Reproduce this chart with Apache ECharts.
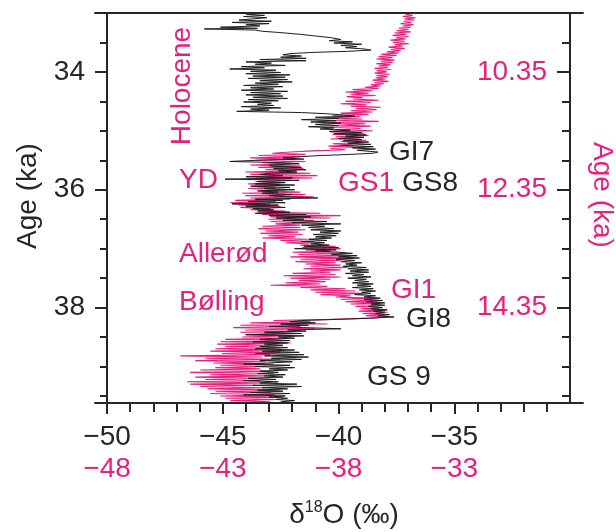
<!DOCTYPE html>
<html><head><meta charset="utf-8">
<script src="https://cdn.jsdelivr.net/npm/echarts@6/dist/echarts.min.js"></script>
<style>html,body{margin:0;padding:0;background:#fff}#c{width:616px;height:532px}</style>
</head><body><div id="c"></div>
<script>
// [age (ka), δ18O (‰)] — black record (left / lower axes)
const blackRecord = [
[33.02,-44.0],[33.04,-43.2],[33.06,-44.1],[33.08,-43.1],[33.10,-43.7],[33.12,-44.3],[33.14,-42.9],[33.16,-44.6],[33.18,-43.0],[33.20,-44.0],
[33.22,-43.4],[33.24,-45.1],[33.26,-43.5],[33.27,-45.8],[33.29,-43.6],[33.31,-43.3],[33.33,-42.6],[33.36,-41.7],[33.39,-41.0],[33.42,-40.3],
[33.45,-39.9],[33.47,-40.4],[33.49,-39.4],[33.51,-40.2],[33.53,-39.0],[33.55,-39.9],[33.57,-39.2],[33.59,-39.7],[33.61,-38.9],[33.63,-38.6],
[33.65,-39.6],[33.67,-41.2],[33.69,-42.1],[33.71,-42.4],[33.73,-41.6],[33.75,-42.5],[33.77,-41.4],[33.79,-43.4],[33.81,-41.4],[33.83,-44.0],
[33.85,-42.9],[33.87,-43.6],[33.89,-42.3],[33.91,-44.2],[33.93,-43.2],[33.95,-44.7],[33.97,-42.7],[33.99,-43.8],[34.01,-42.5],[34.03,-44.0],
[34.05,-42.1],[34.07,-43.7],[34.09,-42.3],[34.11,-43.9],[34.13,-42.2],[34.15,-43.4],[34.17,-42.0],[34.19,-43.6],[34.21,-42.6],[34.23,-44.1],
[34.25,-42.4],[34.27,-43.8],[34.29,-42.8],[34.31,-44.2],[34.33,-42.2],[34.35,-43.8],[34.37,-42.5],[34.39,-44.0],[34.41,-42.4],[34.43,-43.7],
[34.45,-42.2],[34.47,-43.9],[34.49,-42.6],[34.51,-44.1],[34.53,-42.9],[34.55,-43.5],[34.57,-42.8],[34.59,-44.2],[34.61,-42.5],[34.63,-43.8],
[34.65,-43.0],[34.67,-44.4],[34.69,-41.6],[34.71,-40.5],[34.73,-39.8],[34.75,-39.3],[34.77,-41.0],[34.79,-40.0],[34.81,-41.6],[34.83,-40.1],
[34.85,-41.2],[34.87,-39.9],[34.89,-41.0],[34.91,-40.0],[34.93,-41.3],[34.95,-40.2],[34.97,-40.8],[34.99,-39.5],[35.01,-40.4],[35.03,-39.0],
[35.05,-40.2],[35.07,-38.8],[35.09,-39.7],[35.11,-38.9],[35.13,-40.0],[35.15,-39.0],[35.17,-39.8],[35.19,-38.7],[35.21,-39.6],[35.23,-38.6],
[35.25,-39.9],[35.27,-38.5],[35.29,-39.4],[35.31,-38.4],[35.33,-39.2],[35.36,-38.3],[35.38,-38.5],[35.40,-39.5],[35.42,-40.8],[35.44,-41.7],
[35.46,-42.4],[35.48,-41.5],[35.50,-43.5],[35.52,-44.7],[35.54,-42.5],[35.56,-41.7],[35.58,-43.0],[35.60,-42.9],[35.62,-41.6],[35.64,-42.8],
[35.66,-41.4],[35.68,-42.6],[35.70,-41.8],[35.72,-42.9],[35.74,-43.4],[35.76,-42.4],[35.78,-44.0],[35.80,-42.0],[35.82,-44.9],[35.84,-41.7],
[35.86,-43.5],[35.88,-42.3],[35.90,-43.6],[35.92,-41.9],[35.94,-43.8],[35.96,-42.1],[35.98,-43.2],[36.00,-41.9],[36.02,-43.5],[36.04,-42.6],
[36.06,-43.3],[36.08,-42.0],[36.10,-43.0],[36.12,-42.2],[36.14,-40.9],[36.16,-43.6],[36.18,-42.4],[36.20,-43.9],[36.22,-42.3],[36.24,-44.6],
[36.26,-42.6],[36.28,-44.0],[36.30,-42.3],[36.32,-43.7],[36.34,-42.8],[36.36,-43.5],[36.38,-42.1],[36.40,-43.6],[36.42,-41.4],[36.44,-43.0],
[36.46,-41.2],[36.48,-42.7],[36.50,-41.5],[36.52,-42.4],[36.54,-40.5],[36.56,-42.0],[36.58,-39.9],[36.60,-41.6],[36.62,-40.6],[36.64,-41.3],
[36.66,-40.2],[36.68,-41.2],[36.70,-39.9],[36.72,-40.8],[36.74,-40.0],[36.76,-41.1],[36.78,-40.1],[36.80,-41.0],[36.82,-40.3],[36.84,-41.3],
[36.86,-40.5],[36.88,-41.6],[36.90,-40.6],[36.92,-41.2],[36.94,-40.4],[36.96,-41.5],[36.98,-40.0],[37.00,-41.9],[37.02,-40.1],[37.04,-41.0],
[37.06,-40.0],[37.08,-39.4],[37.10,-40.3],[37.12,-39.2],[37.14,-40.0],[37.16,-39.1],[37.18,-40.1],[37.20,-39.3],[37.22,-39.9],[37.24,-39.0],
[37.26,-39.7],[37.28,-39.2],[37.30,-39.8],[37.32,-38.8],[37.34,-39.6],[37.36,-38.7],[37.38,-39.5],[37.40,-38.7],[37.42,-39.7],[37.44,-38.9],
[37.46,-39.4],[37.48,-38.6],[37.50,-39.6],[37.52,-38.8],[37.54,-39.3],[37.56,-38.7],[37.58,-39.4],[37.60,-38.5],[37.62,-39.2],[37.64,-38.6],
[37.66,-39.4],[37.68,-38.5],[37.70,-39.1],[37.72,-38.4],[37.74,-39.0],[37.76,-38.6],[37.78,-39.3],[37.80,-38.4],[37.82,-38.9],[37.84,-38.2],
[37.86,-38.9],[37.88,-38.1],[37.90,-38.8],[37.92,-38.0],[37.94,-38.6],[37.96,-38.0],[37.98,-38.7],[38.00,-38.1],[38.02,-38.6],[38.04,-37.9],
[38.06,-38.5],[38.08,-38.0],[38.10,-38.4],[38.12,-37.8],[38.14,-38.3],[38.16,-37.6],[38.18,-38.6],[38.20,-40.0],[38.22,-41.6],[38.24,-42.1],
[38.26,-41.0],[38.28,-42.5],[38.30,-41.3],[38.32,-43.0],[38.34,-41.5],[38.36,-39.9],[38.38,-42.2],[38.40,-41.4],[38.42,-43.2],[38.44,-41.6],
[38.46,-44.0],[38.48,-41.5],[38.50,-42.6],[38.52,-41.9],[38.54,-43.4],[38.56,-42.1],[38.58,-43.7],[38.60,-42.2],[38.62,-43.2],[38.64,-42.4],
[38.66,-43.4],[38.68,-42.2],[38.70,-43.6],[38.72,-41.9],[38.74,-43.3],[38.76,-41.7],[38.78,-43.6],[38.80,-41.5],[38.82,-43.2],[38.84,-41.3],
[38.86,-42.9],[38.88,-41.6],[38.90,-43.4],[38.92,-42.0],[38.94,-43.0],[38.96,-44.1],[38.98,-42.1],[39.00,-43.6],[39.02,-41.9],[39.04,-43.0],
[39.06,-42.2],[39.08,-43.4],[39.10,-42.6],[39.12,-43.5],[39.14,-42.3],[39.16,-43.2],[39.18,-42.4],[39.20,-43.9],[39.22,-42.7],[39.24,-44.1],
[39.26,-42.6],[39.28,-43.4],[39.30,-41.8],[39.32,-43.7],[39.34,-41.6],[39.36,-43.3],[39.38,-42.2],[39.40,-43.5],[39.42,-42.4],[39.44,-43.8],
[39.46,-42.1],[39.48,-44.1],[39.50,-42.3],[39.52,-43.0],[39.54,-42.2],[39.56,-42.7],[39.58,-41.9],[39.60,-42.5]
];

// [age (ka), δ18O (‰)] — pink record (right / pink axes)
const pinkRecord = [
[9.37,-35.10],[9.39,-34.80],[9.41,-35.23],[9.43,-34.67],[9.45,-35.14],[9.47,-34.71],[9.49,-35.19],[9.51,-34.84],[9.53,-35.32],[9.55,-34.75],
[9.57,-35.23],[9.59,-34.88],[9.61,-35.40],[9.63,-34.97],[9.65,-35.49],[9.67,-34.88],[9.69,-35.58],[9.71,-35.06],[9.73,-35.66],[9.75,-34.97],
[9.77,-35.53],[9.79,-35.10],[9.81,-35.75],[9.83,-35.14],[9.85,-35.66],[9.87,-34.97],[9.89,-35.58],[9.91,-35.23],[9.93,-35.84],[9.95,-35.14],
[9.97,-35.75],[9.99,-35.32],[10.01,-35.92],[10.03,-35.40],[10.05,-36.18],[10.07,-35.49],[10.09,-36.27],[10.11,-35.66],[10.13,-36.36],[10.15,-35.58],
[10.17,-36.18],[10.19,-35.66],[10.21,-36.36],[10.23,-35.75],[10.25,-36.27],[10.27,-35.84],[10.29,-36.44],[10.31,-35.75],[10.33,-36.36],[10.35,-35.92],
[10.37,-36.44],[10.39,-35.79],[10.41,-36.36],[10.43,-35.88],[10.45,-36.40],[10.47,-35.97],[10.49,-36.53],[10.51,-35.84],[10.53,-36.44],[10.55,-36.05],
[10.57,-36.61],[10.59,-36.18],[10.61,-36.87],[10.63,-36.27],[10.65,-37.39],[10.67,-36.53],[10.69,-37.70],[10.71,-36.70],[10.73,-37.48],[10.75,-36.40],
[10.77,-37.65],[10.79,-36.96],[10.81,-37.39],[10.83,-36.27],[10.85,-37.70],[10.87,-36.61],[10.89,-37.91],[10.91,-36.79],[10.93,-37.48],[10.95,-36.18],
[10.97,-37.26],[10.99,-36.36],[11.01,-37.48],[11.03,-36.53],[11.05,-37.91],[11.07,-36.70],[11.09,-38.26],[11.11,-37.05],[11.13,-38.56],[11.15,-36.96],
[11.17,-38.13],[11.19,-36.27],[11.21,-38.35],[11.23,-36.83],[11.25,-38.00],[11.27,-36.61],[11.29,-38.43],[11.31,-37.05],[11.33,-38.13],[11.35,-36.53],
[11.37,-38.35],[11.39,-36.87],[11.41,-38.26],[11.43,-36.70],[11.45,-38.13],[11.47,-37.05],[11.49,-38.35],[11.51,-36.79],[11.53,-37.91],[11.55,-37.13],
[11.57,-38.26],[11.59,-37.39],[11.61,-38.43],[11.63,-37.26],[11.65,-38.35],[11.67,-37.70],[11.69,-39.13],[11.71,-40.08],[11.73,-40.86],[11.75,-39.43],
[11.77,-41.46],[11.79,-39.65],[11.81,-41.81],[11.83,-39.86],[11.85,-41.59],[11.87,-39.43],[11.89,-41.29],[11.91,-40.08],[11.93,-41.81],[11.95,-39.65],
[11.97,-41.46],[11.99,-39.52],[12.01,-41.16],[12.03,-39.82],[12.05,-42.03],[12.07,-39.21],[12.09,-41.81],[12.11,-38.91],[12.13,-41.59],[12.15,-39.13],
[12.17,-41.90],[12.19,-40.08],[12.21,-41.59],[12.23,-40.51],[12.25,-41.90],[12.27,-40.60],[12.29,-41.72],[12.31,-40.73],[12.33,-41.90],[12.35,-40.29],
[12.37,-41.38],[12.39,-39.65],[12.41,-42.16],[12.43,-39.43],[12.45,-42.03],[12.47,-39.08],[12.49,-41.81],[12.51,-40.08],[12.53,-42.46],[12.55,-40.73],
[12.57,-42.68],[12.59,-40.94],[12.61,-42.33],[12.63,-40.51],[12.65,-42.24],[12.67,-40.94],[12.69,-41.81],[12.71,-40.29],[12.73,-41.46],[12.75,-38.78],
[12.77,-41.29],[12.79,-37.91],[12.81,-40.94],[12.83,-38.35],[12.85,-41.03],[12.87,-39.08],[12.89,-40.94],[12.91,-39.43],[12.93,-40.73],[12.95,-39.65],
[12.97,-41.29],[12.99,-39.65],[13.01,-41.46],[13.03,-39.43],[13.05,-41.16],[13.07,-39.73],[13.09,-41.38],[13.11,-39.56],[13.13,-41.03],[13.15,-39.86],
[13.17,-41.29],[13.19,-39.34],[13.21,-40.51],[13.23,-39.08],[13.25,-40.29],[13.27,-39.21],[13.29,-39.65],[13.31,-38.13],[13.33,-39.56],[13.35,-37.91],
[13.37,-39.43],[13.39,-38.35],[13.41,-39.99],[13.43,-37.70],[13.45,-39.73],[13.47,-37.48],[13.49,-40.08],[13.51,-37.35],[13.53,-39.65],[13.55,-37.91],
[13.57,-39.86],[13.59,-38.13],[13.61,-39.43],[13.63,-37.91],[13.65,-39.21],[13.67,-37.61],[13.69,-39.52],[13.71,-37.91],[13.73,-39.21],[13.75,-38.35],
[13.77,-39.99],[13.79,-38.13],[13.81,-40.38],[13.83,-37.91],[13.85,-40.08],[13.87,-38.35],[13.89,-39.73],[13.91,-38.56],[13.93,-40.29],[13.95,-38.78],
[13.97,-40.94],[13.99,-38.48],[14.01,-39.65],[14.03,-37.70],[14.05,-39.21],[14.07,-37.26],[14.09,-39.00],[14.11,-36.92],[14.13,-38.78],[14.15,-37.48],
[14.17,-38.13],[14.19,-36.53],[14.21,-37.91],[14.23,-36.27],[14.25,-37.70],[14.27,-36.18],[14.29,-37.48],[14.31,-36.40],[14.33,-37.26],[14.35,-36.10],
[14.37,-37.05],[14.39,-35.97],[14.41,-37.13],[14.43,-35.88],[14.45,-36.96],[14.47,-36.01],[14.49,-36.83],[14.51,-35.97],[14.53,-36.61],[14.55,-38.35],
[14.57,-40.81],[14.59,-39.21],[14.61,-41.81],[14.63,-38.48],[14.65,-42.24],[14.67,-39.65],[14.69,-42.55],[14.71,-39.00],[14.73,-42.03],[14.75,-40.08],
[14.77,-42.24],[14.79,-39.78],[14.81,-42.03],[14.83,-40.29],[14.85,-42.16],[14.87,-40.51],[14.89,-42.89],[14.91,-40.29],[14.93,-43.11],[14.95,-40.08],
[14.97,-43.24],[14.99,-40.94],[15.01,-42.89],[15.03,-40.51],[15.05,-43.32],[15.07,-40.73],[15.09,-43.54],[15.11,-40.51],[15.13,-43.02],[15.15,-40.94],
[15.17,-44.84],[15.19,-41.29],[15.21,-43.76],[15.23,-40.51],[15.25,-44.19],[15.27,-41.16],[15.29,-43.41],[15.31,-40.81],[15.33,-43.11],[15.35,-41.16],
[15.37,-43.32],[15.39,-41.38],[15.41,-43.97],[15.43,-40.94],[15.45,-44.41],[15.47,-40.81],[15.49,-43.54],[15.51,-41.16],[15.53,-44.19],[15.55,-41.59],
[15.57,-43.76],[15.59,-41.38],[15.61,-44.54],[15.63,-41.07],[15.65,-44.41],[15.67,-41.59],[15.69,-43.97],[15.71,-41.16],[15.73,-43.67],[15.75,-40.51],
[15.77,-43.32],[15.79,-40.94],[15.81,-43.54],[15.83,-40.73],[15.85,-43.11],[15.87,-40.38],[15.89,-42.89],[15.91,-40.60],[15.93,-42.68],[15.95,-40.94]
];

const ageLabelsLeft = [34, 36, 38];
const ageMinorLeft = [33.5,34,34.5,35,35.5,36,36.5,37,37.5,38,38.5,39,39.5];
const ageLabelsRight = [10.35, 12.35, 14.35];
const ageMinorRight = [9.85,10.35,10.85,11.35,11.85,12.35,12.85,13.35,13.85,14.35,14.85,15.35,15.85];
const d18OLabelsBlack = [-50, -45, -40, -35];
const d18OLabelsPink = [-48, -43, -38, -33];
const d18OMinor = [-50,-49,-48,-47,-46,-45,-44,-43,-42,-41,-40,-39,-38,-37,-36,-35,-34,-33,-32,-31];
const periodLabels = ['Holocene','YD','Allerød','Bølling','GI7','GS1','GS8','GI1','GI8','GS 9'];

const PINK = '#e5217f', INK = '#262626';
const FONT = '"Liberation Sans", Arial, sans-serif';
const FS = 28;
const minus = v => String(v).replace('-', '\u2212');

const chart = echarts.init(document.getElementById('c'), null, {renderer: 'canvas'});
const axLine = {show: true, lineStyle: {color: INK, width: 2}};
const tickStyle = {color: INK, width: 2};

function txt(text, x, y, color, opts) {
  return Object.assign({type: 'text', x, y, style: {text, fill: color, font: FS + 'px ' + FONT, align: 'left', verticalAlign: 'middle'}}, opts || {});
}

chart.setOption({
  animation: false,
  backgroundColor: '#fff',
  grid: {left: 95, right: 33, top: 13, bottom: 129, containLabel: false},
  xAxis: [
    {type: 'value', min: -50.52, max: -29.44, position: 'bottom', axisLine: axLine,
     axisTick: {show: true, customValues: d18OMinor, length: 9, lineStyle: tickStyle},
     axisLabel: {customValues: d18OLabelsBlack, formatter: minus, color: INK, fontSize: FS, fontFamily: FONT, margin: 20},
     splitLine: {show: false}},
    {type: 'value', min: -48.52, max: -27.44, position: 'bottom', axisLine: {show: false},
     axisTick: {show: true, customValues: d18OLabelsPink, length: 11, lineStyle: tickStyle},
     axisLabel: {customValues: d18OLabelsPink, formatter: minus, color: PINK, fontSize: FS, fontFamily: FONT, margin: 52},
     splitLine: {show: false}},
    {type: 'value', min: -50.52, max: -29.44, position: 'top', axisLine: axLine,
     axisTick: {show: false}, axisLabel: {show: false}, splitLine: {show: false}}
  ],
  yAxis: [
    {type: 'value', inverse: true, min: 33, max: 39.62, position: 'left', offset: -12, axisLine: axLine,
     axisTick: {show: true, customValues: ageMinorLeft, length: 7, lineStyle: tickStyle},
     axisLabel: {customValues: ageLabelsLeft, color: INK, fontSize: FS, fontFamily: FONT, margin: 22},
     splitLine: {show: false}},
    {type: 'value', inverse: true, min: 9.35, max: 15.97, position: 'right', offset: -13, axisLine: axLine,
     axisTick: {show: true, inside: true, customValues: ageMinorRight, length: 8, lineStyle: tickStyle},
     axisLabel: {inside: true, customValues: ageLabelsRight, formatter: v => v.toFixed(2), color: PINK, fontSize: FS, fontFamily: FONT, margin: 23},
     splitLine: {show: false}},
    {type: 'value', inverse: true, min: 33, max: 39.62, position: 'left', offset: -12, axisLine: {show: false},
     axisTick: {show: true, customValues: ageLabelsLeft, length: 12, lineStyle: tickStyle},
     axisLabel: {show: false}, splitLine: {show: false}},
    {type: 'value', inverse: true, min: 9.35, max: 15.97, position: 'right', offset: -13, axisLine: {show: false},
     axisTick: {show: true, inside: true, customValues: ageLabelsRight, length: 13, lineStyle: tickStyle},
     axisLabel: {show: false}, splitLine: {show: false}}
  ],
  series: [
    {type: 'line', name: 'pink', xAxisIndex: 1, yAxisIndex: 1, showSymbol: false, symbol: 'none',
     lineStyle: {color: PINK, width: 1.1}, data: pinkRecord.map(([a, v]) => [v, a]), z: 2},
    {type: 'line', name: 'black', xAxisIndex: 0, yAxisIndex: 0, showSymbol: false, symbol: 'none',
     lineStyle: {color: '#1e1e1e', width: 1}, data: blackRecord.map(([a, v]) => [v, a]), z: 3}
  ],
  graphic: [
    txt('Age (ka)', 28, 196, INK, {rotation: Math.PI / 2, style: {text: 'Age (ka)', fill: INK, font: FS + 'px ' + FONT, align: 'center', verticalAlign: 'middle'}}),
    txt('Age (ka)', 602, 195, PINK, {rotation: -Math.PI / 2, style: {text: 'Age (ka)', fill: PINK, font: FS + 'px ' + FONT, align: 'center', verticalAlign: 'middle'}}),
    txt(periodLabels[0], 182, 86, PINK, {rotation: Math.PI / 2, style: {text: periodLabels[0], fill: PINK, font: FS + 'px ' + FONT, align: 'center', verticalAlign: 'middle'}}),
    txt(periodLabels[1], 179, 180, PINK),
    txt(periodLabels[2], 179, 254, PINK),
    txt(periodLabels[3], 179, 302, PINK),
    txt(periodLabels[4], 389, 152, INK),
    txt(periodLabels[5], 338, 183, PINK),
    txt(periodLabels[6], 402, 183, INK),
    txt(periodLabels[7], 391, 290, PINK),
    txt(periodLabels[8], 406, 319, INK),
    txt(periodLabels[9], 367, 377, INK),
    {type: 'text', x: 344, y: 515, style: {
      text: '{a|δ}{s|18}{a|O (‰)}', align: 'center', verticalAlign: 'middle',
      rich: {a: {fontSize: FS, fontFamily: FONT, fill: INK, color: INK},
             s: {fontSize: 16, fontFamily: FONT, fill: INK, color: INK, padding: [0, 0, 14, 0]}}}}
  ]
});
</script></body></html>
